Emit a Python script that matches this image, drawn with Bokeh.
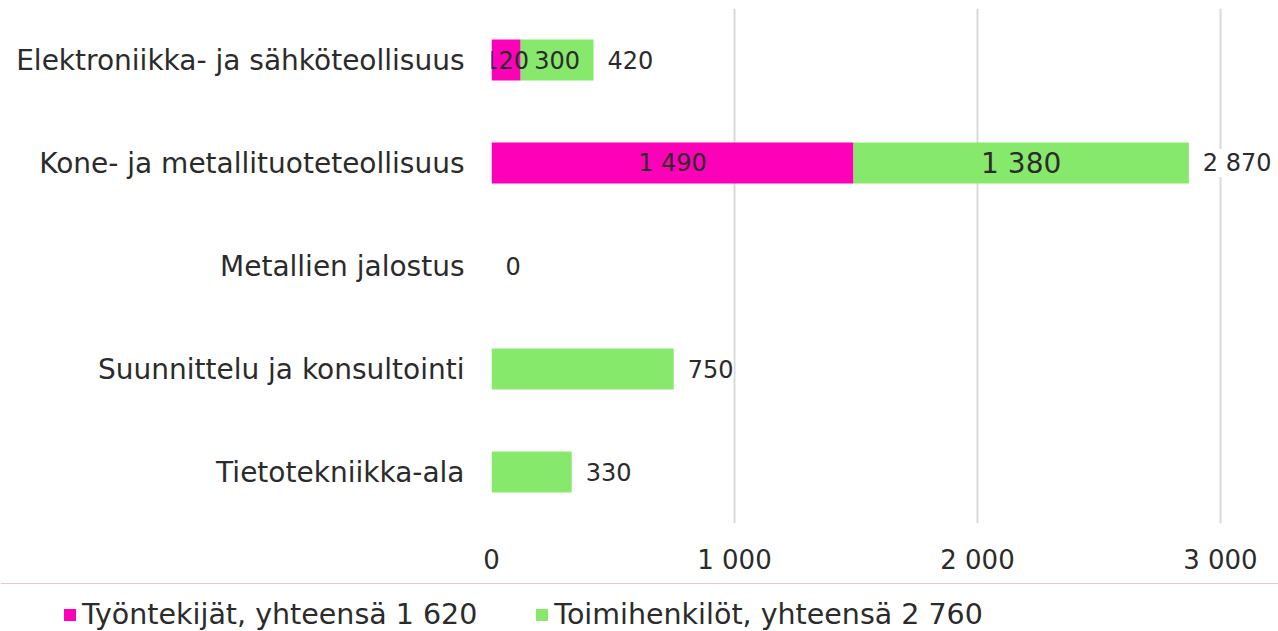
from bokeh.plotting import figure
from bokeh.models import (ColumnDataSource, FactorRange, Range1d, FixedTicker, Legend, LegendItem, LabelSet)
from bokeh.core.properties import value, field
from bokeh.embed import file_html
from bokeh.resources import INLINE

categories = ["Elektroniikka- ja sähköteollisuus", "Kone- ja metallituoteteollisuus",
              "Metallien jalostus", "Suunnittelu ja konsultointi", "Tietotekniikka-ala"]
workers = [120, 1490, 0, 0, 0]
officials = [300, 1380, 0, 750, 330]
series_names = ["Työntekijät, yhteensä 1 620", "Toimihenkilöt, yhteensä 2 760"]
x_ticks = [0, 1000, 2000, 3000]
x_tick_labels = ["0", "1 000", "2 000", "3 000"]

MAGENTA = "#FF00B9"
GREEN = "#87E96B"
TEXT = "#2b2b2b"
FONT = "DejaVu Sans"

def fmt(v):
    return f"{v:,}".replace(",", " ")

totals = [w + o for w, o in zip(workers, officials)]
src = ColumnDataSource(dict(cat=categories, w=workers, o=officials))

p = figure(frame_width=787, frame_height=515, output_backend="svg", toolbar_location=None,
           y_range=FactorRange(*reversed(categories)), x_range=Range1d(0, 3239),
           min_border_left=491, min_border_right=0, min_border_top=8, min_border_bottom=60)
p.outline_line_color = None
p.background_fill_color = "white"
p.border_fill_color = "white"

rs = p.hbar_stack(["w", "o"], y="cat", height=0.4, color=[MAGENTA, GREEN], line_color=None, source=src)

# segment labels (only for bars with both segments)
seg_x, seg_y, seg_t, seg_fs = [], [], [], []
for c, w, o in zip(categories, workers, officials):
    if w > 0:
        seg_x.append(w / 2); seg_y.append(c); seg_t.append(fmt(w)); seg_fs.append("24px")
        if o > 0:
            seg_x.append(w + o / 2); seg_y.append(c); seg_t.append(fmt(o))
            seg_fs.append("28px" if o > 1000 else "24px")
seg_src = ColumnDataSource(dict(x=seg_x, y=seg_y, t=seg_t, fs=seg_fs))
p.text(x="x", y="y", text="t", source=seg_src, text_font=value(FONT), text_font_size=field("fs"),
       text_align="center", text_baseline="middle", text_color=TEXT)

tot_src = ColumnDataSource(dict(x=totals, y=categories, t=[fmt(t) for t in totals]))
p.add_layout(LabelSet(x="x", y="y", text="t", source=tot_src, x_offset=14, text_font=value(FONT),
                      text_font_size="24px", text_baseline="middle", text_align="left",
                      text_color=TEXT, background_fill_color="white", border_line_color=None))

# axes
p.xaxis.ticker = FixedTicker(ticks=x_ticks)
p.xaxis.major_label_overrides = {t: l for t, l in zip(x_ticks, x_tick_labels)}
p.xaxis.axis_line_color = None
p.xaxis.major_tick_line_color = None
p.xaxis.minor_tick_line_color = None
p.xaxis.major_label_standoff = 15
p.xaxis.major_label_text_font = FONT
p.xaxis.major_label_text_font_size = "26px"
p.xaxis.major_label_text_color = TEXT

p.yaxis.axis_line_color = None
p.yaxis.major_tick_line_color = None
p.yaxis.major_label_standoff = 21
p.yaxis.major_label_text_font = FONT
p.yaxis.major_label_text_font_size = "28px"
p.yaxis.major_label_text_color = TEXT

p.xgrid.grid_line_color = "#d9d9d9"
p.xgrid.grid_line_width = 2
p.ygrid.grid_line_color = None

# legend in a strip figure below the chart
lf = figure(width=1278, height=48, output_backend="svg", toolbar_location=None,
            x_range=Range1d(0, 1), y_range=Range1d(0, 1),
            x_axis_location=None, y_axis_location=None,
            min_border_left=0, min_border_right=0, min_border_top=0, min_border_bottom=0)
lf.outline_line_color = None
lf.xgrid.visible = False
lf.ygrid.visible = False
lf.background_fill_color = "white"
lf.border_fill_color = "white"
offscreen = ColumnDataSource(dict(y=[5], r=[1]))
lr1 = lf.hbar(y="y", right="r", height=0.4, color=MAGENTA, line_color=None, source=offscreen)
lr2 = lf.hbar(y="y", right="r", height=0.4, color=GREEN, line_color=None, source=offscreen)

legend = Legend(items=[LegendItem(label=series_names[0], renderers=[lr1]),
                       LegendItem(label=series_names[1], renderers=[lr2])],
                orientation="horizontal", location=(62, 0), glyph_width=15, glyph_height=15,
                label_standoff=5, spacing=57, padding=0, margin=0,
                label_text_font=FONT, label_text_font_size="28.5px", label_text_color=TEXT,
                border_line_color=None, background_fill_alpha=0)
lf.add_layout(legend, "center")

open("out.html", "w").write(file_html([p, lf], INLINE))
